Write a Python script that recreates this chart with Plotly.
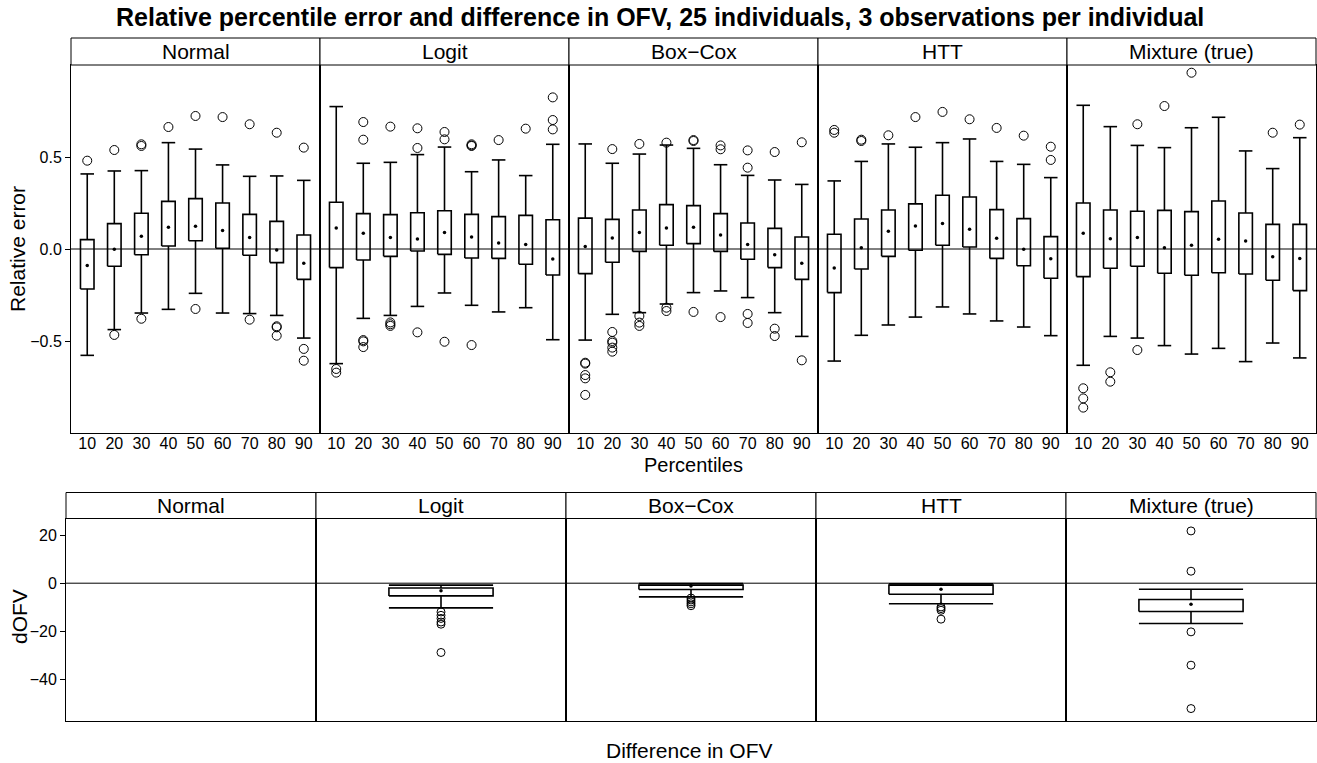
import plotly.graph_objects as go

# ---------------------------------------------------------------- data
models = ["Normal", "Logit", "Box\u2212Cox", "HTT", "Mixture (true)"]
percentiles = [10, 20, 30, 40, 50, 60, 70, 80, 90]

# relative percentile error: five-number summaries per model (rows) and percentile (cols)
upper_whisker = [
    [0.408, 0.424, 0.426, 0.578, 0.543, 0.457, 0.395, 0.397, 0.373],
    [0.774, 0.466, 0.471, 0.513, 0.554, 0.420, 0.484, 0.399, 0.569],
    [0.571, 0.466, 0.516, 0.565, 0.547, 0.458, 0.400, 0.375, 0.351],
    [0.370, 0.476, 0.571, 0.553, 0.578, 0.598, 0.476, 0.460, 0.388],
    [0.781, 0.665, 0.563, 0.551, 0.659, 0.716, 0.533, 0.437, 0.605],
]
upper_quartile = [
    [0.051, 0.138, 0.194, 0.259, 0.274, 0.250, 0.188, 0.150, 0.076],
    [0.254, 0.192, 0.187, 0.197, 0.208, 0.188, 0.176, 0.183, 0.159],
    [0.168, 0.161, 0.212, 0.241, 0.236, 0.192, 0.141, 0.112, 0.065],
    [0.080, 0.163, 0.212, 0.245, 0.292, 0.283, 0.214, 0.165, 0.067],
    [0.250, 0.212, 0.205, 0.210, 0.203, 0.261, 0.196, 0.134, 0.134],
]
median = [
    [-0.089, -0.002, 0.069, 0.118, 0.123, 0.101, 0.063, -0.005, -0.078],
    [0.114, 0.085, 0.063, 0.054, 0.089, 0.065, 0.033, 0.025, -0.054],
    [0.013, 0.060, 0.089, 0.114, 0.118, 0.076, 0.025, -0.031, -0.078],
    [-0.103, 0.007, 0.096, 0.125, 0.139, 0.107, 0.058, -0.002, -0.053],
    [0.085, 0.056, 0.062, 0.007, 0.020, 0.053, 0.043, -0.042, -0.051],
]
lower_quartile = [
    [-0.217, -0.094, -0.031, 0.016, 0.045, 0.004, -0.034, -0.074, -0.165],
    [-0.101, -0.060, -0.040, -0.011, -0.029, -0.049, -0.051, -0.083, -0.141],
    [-0.134, -0.072, -0.013, 0.020, 0.029, -0.013, -0.056, -0.101, -0.165],
    [-0.237, -0.109, -0.040, -0.007, 0.020, 0.011, -0.051, -0.091, -0.159],
    [-0.150, -0.105, -0.094, -0.132, -0.143, -0.129, -0.136, -0.170, -0.226],
]
lower_whisker = [
    [-0.578, -0.438, -0.348, -0.328, -0.241, -0.348, -0.351, -0.361, -0.484],
    [-0.623, -0.377, -0.361, -0.312, -0.239, -0.306, -0.342, -0.319, -0.493],
    [-0.495, -0.355, -0.346, -0.299, -0.237, -0.228, -0.264, -0.346, -0.475],
    [-0.609, -0.469, -0.413, -0.370, -0.315, -0.353, -0.391, -0.424, -0.471],
    [-0.632, -0.475, -0.484, -0.525, -0.571, -0.540, -0.612, -0.511, -0.592],
]
outliers = [
    [[0.48], [0.538, -0.467], [0.569, 0.56, -0.379], [0.663], [0.723, -0.326],
     [0.717], [0.678, -0.384], [0.632, -0.42, -0.426, -0.471], [0.551, -0.543, -0.607]],
    [[-0.652, -0.672], [0.69, 0.594, -0.495, -0.502, -0.533], [0.665, -0.399, -0.409, -0.418],
     [0.656, 0.549, -0.453], [0.636, 0.596, -0.504], [0.569, 0.563, 0.56, -0.522],
     [0.592], [0.654], [0.824, 0.701, 0.65]],
    [[-0.618, -0.623, -0.685, -0.703, -0.793], [0.543, -0.451, -0.5, -0.509, -0.536, -0.558],
     [0.571, -0.364, -0.4, -0.418], [0.578, -0.319, -0.337], [0.592, 0.587, -0.342],
     [0.563, 0.542, -0.37], [0.536, 0.442, -0.353, -0.402], [0.527, -0.433, -0.473],
     [0.58, -0.605]],
    [[0.647, 0.632], [0.594, 0.587], [0.618], [0.717], [0.745], [0.705], [0.658],
     [0.616], [0.556, 0.484]],
    [[-0.757, -0.812, -0.862], [-0.67, -0.721], [0.678, -0.549], [0.777], [0.958],
     [], [], [0.632], [0.676]],
]

# difference in OFV (no values for the reference Normal model)
dofv_upper_whisker = [None, -0.8, -0.2, -0.3, -2.5]
dofv_upper_quartile = [None, -2.0, -0.8, -0.8, -6.8]
dofv_median = [None, -3.2, -1.2, -2.5, -8.8]
dofv_lower_quartile = [None, -5.3, -2.6, -4.6, -11.8]
dofv_lower_whisker = [None, -10.3, -5.7, -8.6, -16.8]
dofv_outliers = [
    [],
    [-12.0, -13.4, -14.7, -16.2, -17.1, -28.9],
    [-6.2, -7.0, -7.8, -8.6, -9.4],
    [-9.9, -10.6, -11.3, -15.0],
    [21.8, 5.0, -20.3, -34.2, -52.3],
]

# ---------------------------------------------------------------- layout geometry (pixels)
W, H = 1317, 763
FONT = "Liberation Sans, Arial, sans-serif"
TOP_X = (71, 1316)
TOP_PLOT = (65, 433)
TOP_STRIP = (38, 65)
BOT_X = (66, 1316)
BOT_PLOT = (518.5, 721)
BOT_STRIP = (492.5, 518.5)
N = len(models)


def fx(p):
    return p / W


def fy(p):
    return 1 - p / H


def box_paths(xs, lo, q1, q3, hi, hw):
    """Rectangles, whiskers and caps as one broken polyline."""
    px, py = [], []
    for x, a, b, c, d in zip(xs, lo, q1, q3, hi):
        if b is None:
            continue
        px += [x - hw, x + hw, x + hw, x - hw, x - hw, None,
               x, x, None, x - hw, x + hw, None,
               x, x, None, x - hw, x + hw, None]
        py += [b, b, c, c, b, None,
               c, d, None, d, d, None,
               b, a, None, a, a, None]
    return px, py


fig = go.Figure()
layout = {}
shapes = []
annotations = []

black = "#000000"
axis_common = dict(showline=True, mirror=True, linecolor=black, linewidth=1,
                   showgrid=False, zeroline=False, tickcolor=black, ticklen=5,
                   automargin=False,
                   tickfont=dict(family=FONT, size=16, color=black))

# dOFV axis range padded like lattice (7 %)
all_dofv = [v for v in dofv_upper_whisker + dofv_lower_whisker if v is not None]
all_dofv += [v for grp in dofv_outliers for v in grp]
d_lo, d_hi = min(all_dofv), max(all_dofv)
d_pad = 0.07 * (d_hi - d_lo)
dofv_range = [d_lo - d_pad, d_hi + d_pad]

for row in range(2):
    x0, x1 = TOP_X if row == 0 else BOT_X
    plot_y = TOP_PLOT if row == 0 else BOT_PLOT
    strip_y = TOP_STRIP if row == 0 else BOT_STRIP
    pw = (x1 - x0) / N
    for i, name in enumerate(models):
        k = row * N + i + 1
        xa = "xaxis" if k == 1 else f"xaxis{k}"
        ya = "yaxis" if k == 1 else f"yaxis{k}"
        xr = "x" if k == 1 else f"x{k}"
        yr = "y" if k == 1 else f"y{k}"
        dom_x = [fx(x0 + i * pw), fx(x0 + (i + 1) * pw)]
        dom_y = [fy(plot_y[1]), fy(plot_y[0])]

        if row == 0:
            xs = list(range(1, len(percentiles) + 1))
            layout[xa] = dict(axis_common, domain=dom_x, anchor=yr, range=[0.4, len(percentiles) + 0.6],
                              tickvals=xs, ticktext=[str(p) for p in percentiles], ticks="",
                              ticklabelstandoff=-4)
            layout[ya] = dict(axis_common, domain=dom_y, anchor=xr, range=[-1, 1],
                              tickvals=[-0.5, 0, 0.5], tickformat=".1f")
            lo, q1, md, q3, hi = (lower_whisker[i], lower_quartile[i], median[i],
                                  upper_quartile[i], upper_whisker[i])
            outs = outliers[i]
            hw = 0.25
            msize = 9
        else:
            xs = [1]
            layout[xa] = dict(axis_common, domain=dom_x, anchor=yr, range=[0.4, 1.6],
                              showticklabels=False, ticks="")
            layout[ya] = dict(axis_common, domain=dom_y, anchor=xr, range=dofv_range,
                              tickvals=[-40, -20, 0, 20])
            lo, q1, md, q3, hi = ([dofv_lower_whisker[i]], [dofv_lower_quartile[i]],
                                  [dofv_median[i]], [dofv_upper_quartile[i]],
                                  [dofv_upper_whisker[i]])
            outs = [dofv_outliers[i]]
            hw = 0.25
            msize = 8

        # y ticks: left of first panel, right of last panel
        if i == 0:
            layout[ya].update(ticks="outside", showticklabels=True, side="left")
        elif i == N - 1:
            layout[ya].update(ticks="outside", showticklabels=False, side="right")
        else:
            layout[ya].update(ticks="", showticklabels=False)

        # reference line at zero
        shapes.append(dict(type="line", xref=f"{xr} domain", yref=yr, x0=0, x1=1, y0=0, y1=0,
                           line=dict(color=black, width=1), layer="below"))

        bx, by = box_paths(xs, lo, q1, q3, hi, hw)
        if bx:
            fig.add_trace(go.Scatter(x=bx, y=by, mode="lines", xaxis=xr, yaxis=yr,
                                     line=dict(color=black, width=1.6), hoverinfo="skip",
                                     showlegend=False))
            mx = [x for x, m in zip(xs, md) if m is not None]
            my = [m for m in md if m is not None]
            fig.add_trace(go.Scatter(x=mx, y=my, mode="markers", xaxis=xr, yaxis=yr,
                                     marker=dict(color=black, size=3.5), showlegend=False))
        ox, oy = [], []
        for x, grp in zip(xs, outs):
            ox += [x] * len(grp)
            oy += grp
        if ox:
            fig.add_trace(go.Scatter(x=ox, y=oy, mode="markers", xaxis=xr, yaxis=yr,
                                     marker=dict(symbol="circle-open", size=msize, color=black,
                                                 line=dict(width=1, color=black)),
                                     showlegend=False))

        # strip
        shapes.append(dict(type="rect", xref="paper", yref="paper",
                           x0=fx(x0 + i * pw), x1=fx(x0 + (i + 1) * pw),
                           y0=fy(strip_y[1]), y1=fy(strip_y[0]),
                           line=dict(color=black, width=1), fillcolor="white", layer="above"))
        annotations.append(dict(text=name, xref="paper", yref="paper",
                                x=fx(x0 + (i + 0.5) * pw), y=fy((strip_y[0] + strip_y[1]) / 2),
                                showarrow=False, xanchor="center", yanchor="middle",
                                font=dict(family=FONT, size=21, color=black)))

# titles
annotations += [
    dict(text="<b>Relative percentile error and difference in OFV, 25 individuals, 3 observations per individual</b>",
         xref="paper", yref="paper", x=fx(660), y=fy(17), showarrow=False,
         xanchor="center", yanchor="middle", font=dict(family=FONT, size=25, color=black)),
    dict(text="Percentiles", xref="paper", yref="paper", x=fx(693), y=fy(465),
         showarrow=False, xanchor="center", yanchor="middle",
         font=dict(family=FONT, size=20, color=black)),
    dict(text="Relative error", xref="paper", yref="paper", x=fx(18), y=fy(249),
         showarrow=False, textangle=-90, xanchor="center", yanchor="middle",
         font=dict(family=FONT, size=21, color=black)),
    dict(text="dOFV", xref="paper", yref="paper", x=fx(19), y=fy(617),
         showarrow=False, textangle=-90, xanchor="center", yanchor="middle",
         font=dict(family=FONT, size=21, color=black)),
    dict(text="Difference in OFV", xref="paper", yref="paper", x=fx(689), y=fy(750),
         showarrow=False, xanchor="center", yanchor="middle",
         font=dict(family=FONT, size=21, color=black)),
]

fig.update_layout(
    width=W, height=H,
    margin=dict(l=0, r=0, t=0, b=0, autoexpand=False),
    paper_bgcolor="white", plot_bgcolor="white",
    showlegend=False,
    shapes=shapes, annotations=annotations,
    **layout,
)

fig.write_html("out.html")
